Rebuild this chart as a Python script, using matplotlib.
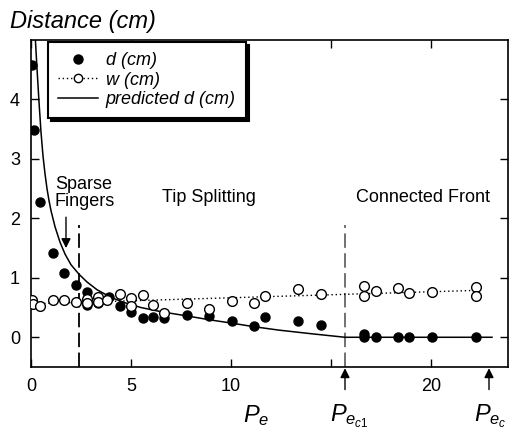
import numpy as np
import matplotlib
matplotlib.use('Agg')
import matplotlib.pyplot as plt
from matplotlib.lines import Line2D

plt.rcParams['font.family'] = ['Liberation Sans', 'DejaVu Sans']
plt.rcParams['mathtext.fontset'] = 'custom'
plt.rcParams['mathtext.it'] = 'Liberation Sans:italic'
plt.rcParams['mathtext.rm'] = 'Liberation Sans'

# measured finger spacing d (cm)
pe_d = [0.05, 0.15, 0.45, 1.08, 1.67, 2.25, 2.82, 2.82, 3.37, 3.92, 4.45, 5.0,
        5.58, 6.12, 6.67, 7.82, 8.92, 10.03, 11.15, 11.7, 13.37, 14.48,
        16.67, 16.67, 17.25, 18.37, 18.9, 20.03, 22.23]
d_cm = [4.58, 3.48, 2.28, 1.41, 1.08, 0.88, 0.76, 0.54, 0.57, 0.68, 0.52, 0.42,
        0.32, 0.34, 0.32, 0.38, 0.36, 0.27, 0.19, 0.34, 0.27, 0.21,
        0.06, 0.0, 0.0, 0.0, 0.0, 0.0, 0.0]

# measured finger width w (cm)
pe_w = [0.03, 0.08, 0.45, 1.12, 1.67, 2.25, 2.82, 2.82, 3.33, 3.33, 3.8, 4.45,
        5.0, 5.0, 5.58, 6.12, 6.67, 7.82, 8.92, 10.03, 11.15, 11.7, 13.37,
        14.48, 16.65, 16.65, 17.25, 18.37, 18.9, 20.03, 22.23, 22.23]
w_cm = [0.62, 0.56, 0.53, 0.62, 0.63, 0.59, 0.64, 0.57, 0.67, 0.6, 0.62, 0.72,
        0.66, 0.53, 0.71, 0.54, 0.41, 0.58, 0.48, 0.61, 0.58, 0.69, 0.81,
        0.73, 0.86, 0.69, 0.78, 0.83, 0.74, 0.76, 0.84, 0.70]

# predicted d curve
pe_pred = [0.22, 0.3, 0.4, 0.5, 0.6, 0.7, 0.8, 0.9, 1.0, 1.2, 1.45, 1.7, 2.0, 2.4, 2.8,
           3.3, 4.0, 4.7, 5.5, 6.5, 7.6, 9.0, 10.0, 11.1, 12.4, 14.0, 15.7, 23.05]
d_pred = [5.0, 4.52, 3.96, 3.45, 3.05, 2.75, 2.5, 2.3, 2.13, 1.86, 1.6, 1.4, 1.22, 1.06, 0.93,
          0.8, 0.67, 0.58, 0.5, 0.43, 0.37, 0.29, 0.24, 0.18, 0.12, 0.06, 0.0, 0.0]

pe_sparse = 2.4
pe_c1 = 15.7
pe_c = 22.9

fig = plt.figure(figsize=(5.09, 4.34), dpi=100)
ax = fig.add_axes([31/509, 67/434, 477/509, 327/434])

ax.plot(pe_pred, d_pred, color='k', lw=1.1, zorder=2)
ax.axvline(pe_sparse, ymax=(1.88 + 0.5) / 5.5, color='k', lw=1.3, dashes=(8, 3), zorder=1)
ax.axvline(pe_c1, ymax=(1.88 + 0.5) / 5.5, color='#666666', lw=1.3, dashes=(8, 3), zorder=1)

# linear fit through w
coef = np.polyfit(pe_w, w_cm, 1)
xf = np.array([min(pe_w), max(pe_w)])
ax.plot(xf, np.polyval(coef, xf), color='k', lw=1, linestyle=(0, (1, 2)), zorder=2)

ax.plot(pe_d, d_cm, 'o', color='k', ms=6.5, zorder=3)
ax.plot(pe_w, w_cm, 'o', mfc='white', mec='k', mew=1, ms=7, zorder=4)

ax.set_xlim(0, 23.85)
ax.set_ylim(-0.5, 5.0)
ax.set_xticks([0, 5, 10, 15, 20])
ax.set_xticklabels(['0', '5', '10', '', '20'])
ax.set_yticks([0, 1, 2, 3, 4])
ax.tick_params(direction='in', length=6, width=1, labelsize=13, pad=8,
               top=True, right=True)
for s in ax.spines.values():
    s.set_linewidth(1.2)

handles = [Line2D([], [], marker='o', color='k', ls='none', ms=6.5),
           Line2D([], [], marker='o', mfc='white', mec='k', color='k', ls=(0, (1, 2)), lw=1, ms=6),
           Line2D([], [], color='k', lw=1.1)]
leg = ax.legend(handles, ['d (cm)', 'w (cm)', 'predicted d (cm)'],
                loc='upper left', bbox_to_anchor=(0.036, 0.994), borderaxespad=0,
                prop={'style': 'italic', 'size': 13}, handlelength=2.2,
                handletextpad=0.45, labelspacing=0.15, borderpad=0.55,
                fancybox=False, shadow={'color': 'k', 'alpha': 1}, framealpha=1)
leg.get_frame().set_edgecolor('k')
leg.get_frame().set_linewidth(1.5)

arrow = dict(arrowstyle='-|>', color='k', lw=1, mutation_scale=14, shrinkA=0, shrinkB=0)
ax.text(1.2, 2.72, 'Sparse\nFingers', fontsize=13, va='top', ha='left', linespacing=1.0)
ax.annotate('', xy=(1.75, 1.5), xytext=(1.75, 2.02), arrowprops=arrow)
ax.text(6.55, 2.27, 'Tip Splitting', fontsize=13, ha='left', va='baseline')
ax.text(16.25, 2.27, 'Connected Front', fontsize=13, ha='left', va='baseline')

for xa in [pe_c1, pe_c]:
    ax.annotate('', xy=(xa, -0.52), xytext=(xa, -0.88), annotation_clip=False,
                arrowprops=arrow)
ax.text(10.6, -1.42, r'$P_e$', fontsize=17, ha='left', va='baseline', clip_on=False)
ax.text(14.95, -1.42, r'$P_{e_{c1}}$', fontsize=17, ha='left', va='baseline', clip_on=False)
ax.text(22.15, -1.42, r'$P_{e_{c}}$', fontsize=17, ha='left', va='baseline', clip_on=False)

fig.text(10/509, 1 - 28/434, 'Distance (cm)', fontsize=17, style='italic', va='baseline')

fig.savefig('out.png', dpi=100)
